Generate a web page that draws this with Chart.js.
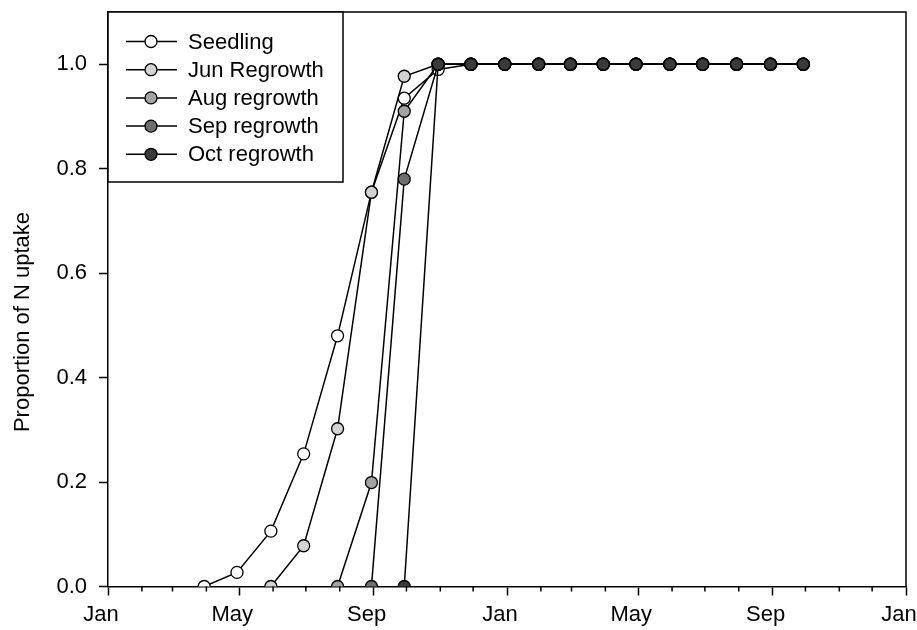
<!DOCTYPE html>
<html>
<head>
<meta charset="utf-8">
<script src="https://cdn.jsdelivr.net/npm/chart.js@4.4.1/dist/chart.umd.min.js"></script>
<style>
    body { margin: 0; background: #fff; }
    #uptakeChart { display: block; }
</style>
</head>
<body>
<canvas id="uptakeChart" width="917" height="630"></canvas>
<script>
// sampling dates (about the end of each month)
const sampleDates = [
    '2009-03-30', '2009-04-29', '2009-05-30', '2009-06-29', '2009-07-30',
    '2009-08-30', '2009-09-29', '2009-10-30', '2009-11-29', '2009-12-30',
    '2010-01-30', '2010-02-28', '2010-03-30', '2010-04-29', '2010-05-30',
    '2010-06-29', '2010-07-30', '2010-08-30', '2010-09-29'
];

const seedling = [0, 0.027, 0.106, 0.254, 0.48, 0.755, 0.935, 0.99, 1, 1, 1, 1, 1, 1, 1, 1, 1, 1, 1];
const junRegrowth = [null, null, 0, 0.078, 0.302, 0.755, 0.977, 1, 1, 1, 1, 1, 1, 1, 1, 1, 1, 1, 1];
const augRegrowth = [null, null, null, null, 0, 0.199, 0.91, 1, 1, 1, 1, 1, 1, 1, 1, 1, 1, 1, 1];
const sepRegrowth = [null, null, null, null, null, 0, 0.78, 1, 1, 1, 1, 1, 1, 1, 1, 1, 1, 1, 1];
const octRegrowth = [null, null, null, null, null, null, 0, 1, 1, 1, 1, 1, 1, 1, 1, 1, 1, 1, 1];

const seriesNames = ['Seedling', 'Jun Regrowth', 'Aug regrowth', 'Sep regrowth', 'Oct regrowth'];
const seriesFills = ['#ffffff', '#d3d3d3', '#a3a3a3', '#6e6e6e', '#3a3a3a'];

const majorTickDates = ['2009-01-01', '2009-05-01', '2009-09-01', '2010-01-01', '2010-05-01', '2010-09-01', '2011-01-01'];
const majorTickLabels = ['Jan', 'May', 'Sep', 'Jan', 'May', 'Sep', 'Jan'];
const yTicks = [0, 0.2, 0.4, 0.6, 0.8, 1.0];
const yTitle = 'Proportion of N uptake';

const FONT = "'Liberation Sans', Arial, sans-serif";
const ORIGIN = Date.UTC(2009, 0, 1);

function dayOf(str) {
    const [y, m, d] = str.split('-').map(Number);
    return (Date.UTC(y, m - 1, d) - ORIGIN) / 86400000;
}

const majorDays = majorTickDates.map(dayOf);
const minorDays = [];
for (let m = 0; m <= 24; m++) {
    minorDays.push((Date.UTC(2009, m, 1) - ORIGIN) / 86400000);
}

function toPoints(values) {
    return sampleDates
        .map((d, i) => ({ x: dayOf(d), y: values[i] }))
        .filter(p => p.y !== null);
}

const allSeries = [seedling, junRegrowth, augRegrowth, sepRegrowth, octRegrowth];

const datasets = allSeries.map((vals, i) => ({
    label: seriesNames[i],
    data: toPoints(vals),
    borderColor: '#000',
    borderWidth: 1.5,
    backgroundColor: seriesFills[i],
    pointBackgroundColor: seriesFills[i],
    pointBorderColor: '#000',
    pointBorderWidth: 1.3,
    pointRadius: 6,
    tension: 0,
    order: allSeries.length - i
}));

const framePlugin = {
    id: 'frame',
    afterDraw(chart) {
        const { ctx, chartArea: a, scales } = chart;
        ctx.save();
        ctx.strokeStyle = '#000';
        ctx.lineWidth = 1.5;
        ctx.beginPath();
        ctx.moveTo(a.left, a.top);
        ctx.lineTo(a.right, a.top);
        ctx.lineTo(a.right, a.bottom);
        ctx.stroke();

        // monthly minor ticks
        ctx.beginPath();
        minorDays.forEach(v => {
            if (majorDays.includes(v)) return;
            const px = scales.x.getPixelForValue(v);
            ctx.moveTo(px, a.bottom);
            ctx.lineTo(px, a.bottom + 5);
        });
        ctx.stroke();

        // y axis title, placed a little below the middle like the original
        ctx.translate(22.5, 322);
        ctx.rotate(-Math.PI / 2);
        ctx.fillStyle = '#000';
        ctx.font = '22px ' + FONT;
        ctx.textAlign = 'center';
        ctx.textBaseline = 'middle';
        ctx.fillText(yTitle, 0, 0);
        ctx.restore();
    }
};

const boxLegendPlugin = {
    id: 'boxLegend',
    afterDraw(chart) {
        const { ctx, chartArea: a } = chart;
        const x0 = a.left, y0 = a.top, w = 235, h = 170;
        ctx.save();
        ctx.fillStyle = '#fff';
        ctx.fillRect(x0, y0, w, h);
        ctx.strokeStyle = '#000';
        ctx.lineWidth = 1.5;
        ctx.strokeRect(x0, y0, w, h);

        chart.data.datasets.forEach((ds, i) => {
            const y = y0 + 29.5 + i * 28.2;
            ctx.beginPath();
            ctx.lineWidth = 1.5;
            ctx.moveTo(x0 + 18, y);
            ctx.lineTo(x0 + 69, y);
            ctx.stroke();
            ctx.beginPath();
            ctx.arc(x0 + 43, y, 6, 0, Math.PI * 2);
            ctx.fillStyle = ds.pointBackgroundColor;
            ctx.fill();
            ctx.lineWidth = 1.3;
            ctx.stroke();
            ctx.fillStyle = '#000';
            ctx.font = '22px ' + FONT;
            ctx.textBaseline = 'middle';
            ctx.fillText(ds.label, x0 + 80, y + 1);
        });
        ctx.restore();
    }
};

new Chart(document.getElementById('uptakeChart').getContext('2d'), {
    type: 'line',
    data: { datasets: datasets },
    options: {
        responsive: false,
        animation: false,
        layout: {
            padding: { top: 12, right: 11, left: 0, bottom: 0 }
        },
        plugins: {
            legend: { display: false },
            tooltip: { enabled: false }
        },
        scales: {
            x: {
                type: 'linear',
                min: 0,
                max: 730,
                afterBuildTicks: axis => {
                    axis.ticks = majorDays.map(v => ({ value: v }));
                },
                afterFit: axis => {
                    axis.height = 43.5;
                    axis.paddingLeft = 0;
                    axis.paddingRight = 0;
                },
                ticks: {
                    autoSkip: false,
                    maxRotation: 0,
                    color: '#000',
                    padding: 6,
                    labelOffset: -7,
                    font: { family: FONT, size: 22 },
                    callback: (value, index) => majorTickLabels[index]
                },
                grid: {
                    drawOnChartArea: false,
                    tickLength: 9,
                    tickWidth: 1.5,
                    tickColor: '#000'
                },
                border: { color: '#000', width: 1.5 }
            },
            y: {
                min: 0,
                max: 1.1,
                afterBuildTicks: axis => {
                    axis.ticks = yTicks.map(v => ({ value: v }));
                },
                afterFit: axis => {
                    axis.width = 108;
                    axis.paddingTop = 0;
                    axis.paddingBottom = 0;
                },
                ticks: {
                    color: '#000',
                    padding: 12,
                    font: { family: FONT, size: 22 },
                    callback: value => value.toFixed(1)
                },
                grid: {
                    drawOnChartArea: false,
                    tickLength: 9,
                    tickWidth: 1.5,
                    tickColor: '#000'
                },
                border: { color: '#000', width: 1.5 }
            }
        }
    },
    plugins: [framePlugin, boxLegendPlugin]
});
</script>
</body>
</html>
